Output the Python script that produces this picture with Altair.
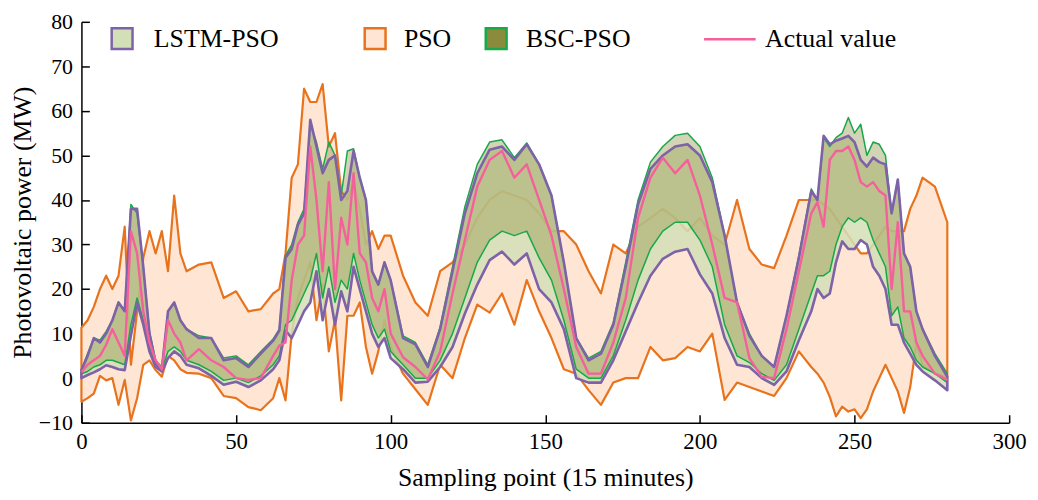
import altair as alt
import pandas as pd

# ---------------- data ----------------
x_vals = [0, 2, 4, 6, 8, 10, 12, 14, 16, 18, 20, 22, 24, 26, 28, 30, 32, 34,
          38, 42, 46, 50, 54, 58, 62,
          64, 66, 68, 70, 72, 74, 76, 78, 80, 82, 84, 86, 88, 90, 92, 94, 96, 98, 100,
          104, 108, 112, 116, 120, 124, 128, 132, 136, 140, 144, 148, 152, 156, 160, 164, 168,
          172, 176, 180, 184, 188, 192, 196, 200, 204, 208, 212, 216, 220, 224, 228, 232, 236,
          238, 240, 242, 244, 246, 248, 250, 252, 254, 256, 258, 260, 262, 264, 266, 268, 270, 272,
          276, 280]

actual = [1.3, 3, 4, 5, 7.5, 11, 8, 5, 33, 28, 15, 8, 4, 2, 13, 10, 8, 4,
          6.5, 4, 2.5, 0, -0.4, 0, 5,
          7.3, 8, 22, 30, 32, 52, 40, 24, 44, 20, 36, 30, 46, 28, 26, 18, 15, 20, 10,
          4.7, 2.5, -0.3, 6, 19, 31, 43, 49, 51, 45, 48, 40, 32, 20, 7, 1, 1,
          8, 18, 36, 45, 49.5, 46, 49, 41, 30, 18, 17, 4.5, 0.3, 0, 11, 24, 37,
          39.5, 34, 49, 51, 51, 52, 49, 44, 43, 44, 42, 41, 20, 35, 15, 15, 8, 5,
          1, -0.4]

lstm_up = [1.8, 5, 9, 8, 10, 13, 17, 15, 38, 38, 25, 10, 3.5, 2, 15, 17, 13, 11,
           9, 9, 4, 4.5, 2.5, 5.5, 8.4,
           10.7, 27, 29, 34.4, 37, 58, 52, 46, 49, 50, 40, 42, 51, 45, 40, 24, 21, 26, 22,
           9, 7.6, 2.5, 11, 24, 37, 46, 51.3, 52, 49, 52.5, 48, 41, 26, 9, 4, 5.5,
           12, 25, 39, 47, 50, 52, 52.5, 50, 44, 32, 17, 9.5, 5, 2.5, 14, 27, 42,
           40, 54.4, 52.5, 53.3, 53.8, 54.4, 53, 49, 47.5, 49.5, 48.5, 48, 37, 44.6, 28, 25, 15, 11,
           5, 0.3]

lstm_lo = [0, 0.7, 1.3, 2, 2.9, 2.5, 2, 1.8, 9.5, 17, 12, 6, 2.5, 1.5, 4.5, 6, 5, 3,
           2.2, 0.5, -1.5, -0.8, -2, -0.5, 2,
           4, 10.7, 9, 12, 15, 17, 24, 13, 20, 12, 19.5, 15, 25, 20, 15, 10, 7, 9, 4.5,
           2, -1, -0.8, 2.5, 7, 14.5, 21, 26.5, 28.4, 25.5, 28, 20, 17, 11, 0, -1, -1,
           4, 10.5, 17, 23, 26.8, 28.4, 29, 23.3, 19, 9, 3, 2.5, 0, -1.5, 1.5, 8.5, 15,
           20, 18, 19, 26, 30.7, 29, 29, 31, 30, 25, 23, 20, 12, 12, 8, 5.5, 3, 1.5,
           -0.5, -2.7]

bsc_up = [1.8, 5.5, 9, 8.5, 10.5, 13, 17, 15, 39, 37, 25, 10.5, 4, 2.5, 15, 17, 13, 11,
          9.5, 9, 4.5, 5, 3, 6, 8.8,
          11, 27.5, 30, 35, 38, 57, 53, 47, 53, 50, 41, 51, 51.5, 45, 40, 24, 21, 26, 22,
          9.5, 8, 3, 11.5, 25, 38.5, 48, 53, 53.5, 49.5, 52.8, 48, 41, 26, 9, 4.5, 6,
          12.5, 26, 40, 48.5, 52, 54.5, 55, 52, 45, 32, 17, 10, 5, 2.5, 14, 27.5, 42.5,
          40, 54, 52, 54, 55, 58.5, 55, 57, 50, 53, 52.5, 50, 37, 44.6, 28, 25, 15, 11,
          5.5, 1]

bsc_lo = [1, 1.5, 2.5, 3, 4, 4, 3.5, 3, 12, 18, 13, 7, 3, 2, 6, 7, 6, 4,
          3, 1.5, -0.5, 0, -1, 0.5, 3,
          5, 12, 13, 16, 19, 22, 28, 18, 25, 17, 22, 20, 28, 22, 17, 12, 9, 11, 6,
          3, 0, 0, 4, 10, 18, 26, 31, 33, 32, 33, 27, 22, 13, 2, 0, 0,
          5, 13, 22, 29, 33, 35, 35, 31, 25, 12, 5, 3.5, 1, -0.5, 3, 11, 19,
          23, 23, 24, 30, 34, 36, 35, 36, 35, 31, 28, 25, 14, 16, 9, 7, 4, 2.5,
          1, -1]

pso_up = [11.3, 13, 16, 20, 23, 20, 23, 34, 3, 15, 27, 33, 28, 33, 24, 41, 28, 24,
          25.5, 26, 18, 19.5, 15, 15.5, 19,
          20, 28, 45, 48, 65, 62, 62, 66, 52, 55, 42, 40, 44, 38, 30, 33, 29, 32, 32,
          23, 17, 14, 24, 26, 30, 36, 40, 42, 41, 40, 37, 33, 33, 30, 24, 19,
          30, 28, 34, 36, 38, 36, 33, 36, 32, 30, 40, 29, 25.5, 24.7, 32, 40, 40,
          40, 39, 38, 36, 34, 32, 30, 28, 28, 30, 32, 34, 33, 33, 33, 38, 41, 45,
          43, 35]

pso_lo = [-5.3, -4.5, -3.5, 0.5, -0.5, 0, -6, -0.4, -9.5, -4.5, 3, 4, 1.8, 0.3, 5, 4, 2, 1.2,
          1, 0, -4, -4.5, -6.5, -7.2, -4.5,
          0, -5, 10, 18, 22, 26, 13, 21, 6, 13, -5, 14, 14, 17, 7, 1, 6, 13, 7,
          1, -2.5, -6, 3, 0, 9, 16.5, 14.7, 19, 12, 22, 15, 9, 2, 1, -2.7, -6,
          -1, 0, 0, 7, 4, 4.5, 7, 6, 10, -4.9, -1, -2, -3, -4, 0, 6, 2.5,
          1, -1, -4.2, -8.6, -6.4, -7.5, -7, -9, -7, -3, 0, 3, 0, -3, -7.8, -2, 7.7, 3,
          1, 0.3]

x_ticks = [0, 50, 100, 150, 200, 250, 300]
y_ticks = [-10, 0, 10, 20, 30, 40, 50, 60, 70, 80]

df = pd.DataFrame({
    "x": x_vals, "actual": actual,
    "lstm_up": lstm_up, "lstm_lo": lstm_lo,
    "bsc_up": bsc_up, "bsc_lo": bsc_lo,
    "pso_up": pso_up, "pso_lo": pso_lo,
})

# ---------------- style ----------------
FONT = "Liberation Serif"
W, H = 935, 404
ORANGE = "#e8731c"
PEACH = "#fee5d4"
PURPLE = "#7d62a8"
LGREEN = "#d3dfb6"
GREEN = "#18a84a"
OLIVE = "#8b8b3d"
PINK = "#f5609c"

xs = alt.Scale(domain=[0, 300], nice=False, zero=False)
ys = alt.Scale(domain=[-10, 80], nice=False, zero=False)

x_axis = alt.Axis(values=x_ticks, title="Sampling point (15 minutes)", orient="bottom",
                  ticks=False, grid=False, domainColor="black", domainWidth=1.5,
                  labelFont=FONT, labelFontSize=23, labelColor="black", labelPadding=8,
                  labelFlush=False, labelOverlap=False,
                  titleFont=FONT, titleFontSize=26, titleFontWeight="normal",
                  titleColor="black", titlePadding=11)
y_axis = alt.Axis(values=y_ticks, title="Photovoltaic power (MW)", orient="left",
                  ticks=False, grid=False, domainColor="black", domainWidth=1.5,
                  labelFont=FONT, labelFontSize=22, labelColor="black", labelPadding=9,
                  labelFlush=False, labelOverlap=False,
                  titleFont=FONT, titleFontSize=26, titleFontWeight="normal",
                  titleColor="black", titlePadding=3)
# inward ticks: axes moved onto the opposite edge so their ticks point inside
x_tick_axis = alt.Axis(values=x_ticks, orient="top", offset=-H, labels=False, domain=False,
                       ticks=True, tickSize=8, tickWidth=1.5, tickColor="black",
                       grid=False, title=None)
y_tick_axis = alt.Axis(values=y_ticks, orient="right", offset=-W, labels=False, domain=False,
                       ticks=True, tickSize=8, tickWidth=1.5, tickColor="black",
                       grid=False, title=None)


def leg(lx, ly, stroke_color, offset, sym="square", size=441, sw=2.5):
    return alt.Legend(orient="none", legendX=lx, legendY=ly, title=None,
                      direction="horizontal", symbolType=sym, symbolSize=size,
                      symbolStrokeColor=stroke_color, symbolStrokeWidth=sw,
                      symbolOpacity=1, labelFont=FONT, labelFontSize=26,
                      labelColor="black", labelOffset=offset, padding=0)


base = alt.Chart(df)

pso = base.transform_calculate(method="'PSO'").mark_area(
    stroke=ORANGE, strokeWidth=2.2, strokeJoin="round", opacity=1
).encode(
    x=alt.X("x:Q", scale=xs, axis=x_axis),
    y=alt.Y("pso_lo:Q", scale=ys, axis=y_axis),
    y2="pso_up:Q",
    fill=alt.Fill("method:N", scale=alt.Scale(domain=["PSO"], range=[PEACH]),
                  legend=leg(283, 4, ORANGE, 16)),
)

lstm_fill = base.transform_calculate(method="'LSTM-PSO'").mark_area(fillOpacity=0.85).encode(
    x=alt.X("x:Q", scale=xs, axis=None),
    y=alt.Y("lstm_lo:Q", scale=ys, axis=None),
    y2="lstm_up:Q",
    fill=alt.Fill("method:N", scale=alt.Scale(domain=["LSTM-PSO"], range=[LGREEN]),
                  legend=leg(28, 4, PURPLE, 19)),
)

bsc = base.transform_calculate(method="'BSC-PSO'").mark_area(
    fillOpacity=0.38, stroke=GREEN, strokeWidth=1.5, strokeJoin="round"
).encode(
    x=alt.X("x:Q", scale=xs, axis=None),
    y=alt.Y("bsc_lo:Q", scale=ys, axis=None),
    y2="bsc_up:Q",
    fill=alt.Fill("method:N", scale=alt.Scale(domain=["BSC-PSO"], range=[OLIVE]),
                  legend=leg(405, 4, GREEN, 17)),
)

lstm_line = base.mark_area(fillOpacity=0, stroke=PURPLE, strokeWidth=2.6,
                           strokeJoin="round").encode(
    x=alt.X("x:Q", scale=xs, axis=None),
    y=alt.Y("lstm_lo:Q", scale=ys, axis=None),
    y2="lstm_up:Q",
)

act = base.transform_calculate(method="'Actual value'").mark_line(
    strokeWidth=2.4, strokeJoin="round"
).encode(
    x=alt.X("x:Q", scale=xs, axis=None),
    y=alt.Y("actual:Q", scale=ys, axis=None),
    stroke=alt.Stroke("method:N", scale=alt.Scale(domain=["Actual value"], range=[PINK]),
                      legend=leg(626, -10, PINK, 8, sym="stroke", size=2704, sw=2.5)),
)

ticks = base.mark_point(opacity=0).encode(
    x=alt.X("x:Q", scale=xs, axis=x_tick_axis),
    y=alt.Y("actual:Q", scale=ys, axis=y_tick_axis),
)

chart = alt.layer(pso, lstm_fill, bsc, lstm_line, act, ticks).resolve_scale(
    fill="independent", stroke="independent"
).resolve_axis(
    x="independent", y="independent"
).properties(
    width=W, height=H,
    autosize=alt.AutoSizeParams(type="none"),
    padding={"left": 74, "top": 12, "right": 21, "bottom": 75},
).configure_view(stroke=None)

chart.save("out.html", embed_options={"renderer": "svg", "actions": False})
